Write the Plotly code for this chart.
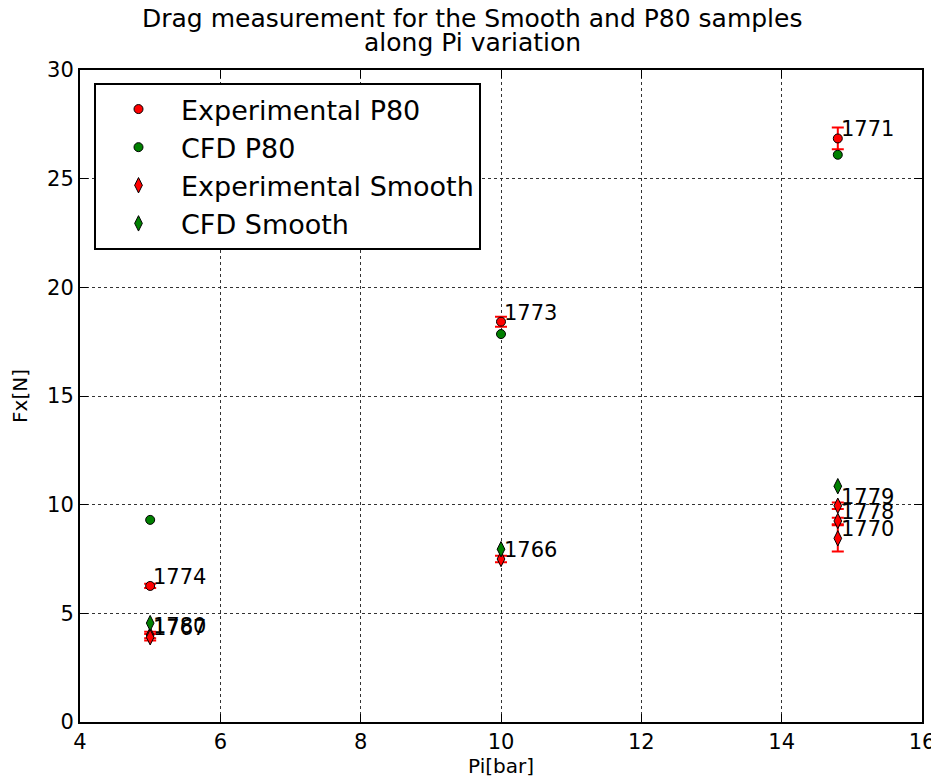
import plotly.graph_objects as go

# ---- data ----
exp_p80_x = [5, 10, 14.8]
exp_p80_y = [6.26, 18.42, 26.85]
exp_p80_err = [0.1, 0.23, 0.5]
exp_p80_labels = ["1774", "1773", "1771"]

cfd_p80_x = [5, 10, 14.8]
cfd_p80_y = [9.3, 17.85, 26.1]

exp_smooth_x = [5, 5, 10, 14.8, 14.8, 14.8]
exp_smooth_y = [4.0, 3.9, 7.5, 9.95, 9.25, 8.45]
exp_smooth_err = [0.15, 0.15, 0.15, 0.15, 0.15, 0.6]
exp_smooth_labels = ["1780", "1767", "1766", "1779", "1778", "1770"]

cfd_smooth_x = [5, 10, 14.8]
cfd_smooth_y = [4.55, 7.95, 10.85]

x_ticks = [4, 6, 8, 10, 12, 14, 16]
y_ticks = [0, 5, 10, 15, 20, 25, 30]

title_lines = ["Drag measurement for the Smooth and P80 samples", "along Pi variation"]

RED = "#ff0000"
GREEN = "#008000"
FONT = "DejaVu Sans"

# the page body adds an 8px offset; compensate so the plot lands where the reference has it
OFF = 8
W, H = 939 - OFF, 782 - OFF
ML, MR, MT, MB = 80 - OFF, 17, 70 - OFF, 60
PW = W - ML - MR
PH = H - MT - MB

fig = go.Figure()

err_style = dict(type="data", color=RED, thickness=2, width=6)

fig.add_trace(go.Scatter(
    x=exp_p80_x, y=exp_p80_y, mode="markers", name="Experimental P80", legendgroup="a",
    marker=dict(symbol="circle", size=9, color=RED, line=dict(color="black", width=1)),
    error_y=dict(array=exp_p80_err, **err_style),
))
fig.add_trace(go.Scatter(
    x=cfd_p80_x, y=cfd_p80_y, mode="markers", name="CFD P80", legendgroup="b",
    marker=dict(symbol="circle", size=9, color=GREEN, line=dict(color="black", width=1)),
))
fig.add_trace(go.Scatter(
    x=exp_smooth_x, y=exp_smooth_y, mode="markers", name="Experimental Smooth", legendgroup="c",
    marker=dict(symbol="diamond-tall", size=11, color=RED, line=dict(color="black", width=1)),
    error_y=dict(array=exp_smooth_err, **err_style),
))
fig.add_trace(go.Scatter(
    x=cfd_smooth_x, y=cfd_smooth_y, mode="markers", name="CFD Smooth", legendgroup="d",
    marker=dict(symbol="diamond-tall", size=11, color=GREEN, line=dict(color="black", width=1)),
))

for xs, ys, labs in [(exp_p80_x, exp_p80_y, exp_p80_labels),
                     (exp_smooth_x, exp_smooth_y, exp_smooth_labels)]:
    for xv, yv, lab in zip(xs, ys, labs):
        fig.add_annotation(x=xv, y=yv, text=lab, showarrow=False,
                           xanchor="left", yanchor="bottom", xshift=1, yshift=-5,
                           font=dict(family=FONT, size=21, color="black"))

# suptitle, two lines, centred on the figure
for line, ysh in zip(title_lines, [35, 11]):
    fig.add_annotation(text=line, xref="paper", yref="paper",
                       x=(472 - 80) / PW, y=1, xanchor="center", yanchor="bottom",
                       yshift=ysh, showarrow=False,
                       font=dict(family=FONT, size=25, color="black"))

axis_common = dict(
    showline=True, linecolor="black", linewidth=2, mirror="ticks",
    ticks="inside", ticklen=8, tickwidth=1, tickcolor="black",
    showgrid=True, gridcolor="#333333", gridwidth=1, griddash="dot",
    zeroline=False, automargin=False,
    tickfont=dict(family=FONT, size=21, color="black"),
)

fig.update_xaxes(range=[4, 16], tickvals=x_ticks, ticktext=[str(v) for v in x_ticks],
                 title=dict(text="Pi[bar]", font=dict(family=FONT, size=20, color="black"), standoff=6),
                 **axis_common)
fig.update_yaxes(range=[0, 30], tickvals=y_ticks, ticktext=[str(v) for v in y_ticks],
                 title=dict(text="Fx[N]", font=dict(family=FONT, size=20, color="black"), standoff=15),
                 **axis_common)

fig.update_layout(
    width=W, height=H,
    margin=dict(l=ML, r=MR, t=MT, b=MB),
    paper_bgcolor="white", plot_bgcolor="white",
    font=dict(family=FONT, color="black"),
    legend=dict(x=(94 - 80) / PW, y=1 - (83 - 70) / PH, xanchor="left", yanchor="top",
                bgcolor="white", bordercolor="black", borderwidth=2,
                font=dict(family=FONT, size=27, color="black"),
                itemwidth=75, tracegroupgap=0),
    showlegend=True,
)

fig.write_html("out.html")
